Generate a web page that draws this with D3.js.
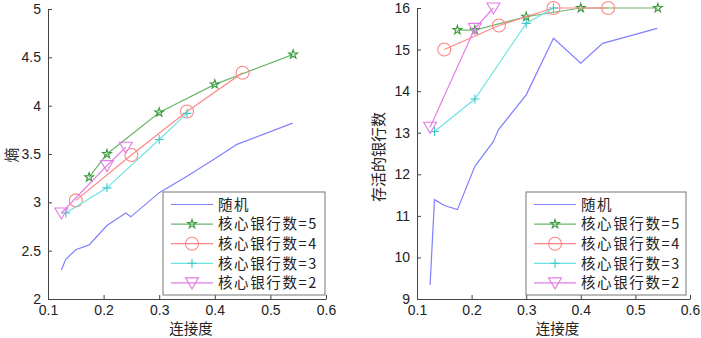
<!DOCTYPE html>
<html lang="zh">
<head>
  <meta charset="UTF-8">
  <title>连接度 vs 熵 / 存活的银行数</title>
  <script src="https://d3js.org/d3.v7.min.js"></script>
  <style>
    body { margin: 0; background: #fff; }
    .tick-label { font-family: "Liberation Sans", Arial, sans-serif; font-size: 14px; fill: #222; }
    .cjk { font-family: "Noto Sans CJK SC", sans-serif; fill: #222; }
  </style>
</head>
<body>
  <div id="chart"></div>
  <script>
    // random network (blue line)
    const randomX = [0.124, 0.132, 0.15, 0.174, 0.206, 0.24, 0.249, 0.3, 0.35, 0.4, 0.44, 0.54];
    const randomEntropy = [2.30, 2.41, 2.51, 2.56, 2.76, 2.89, 2.85, 3.10, 3.27, 3.45, 3.60, 3.82];
    const randomSurvive = [9.34, 11.39, 11.25, 11.15, 12.19, 12.79, 13.07, 13.91, 15.27, 14.67, 15.15, 15.51];

    // core banks = 5
    const core5X = [0.174, 0.206, 0.3, 0.4, 0.541];
    const core5Entropy = [3.26, 3.50, 3.93, 4.22, 4.53];
    const core5Survive = [15.47, 15.47, 15.79, 16, 16];

    // core banks = 4
    const core4X = [0.15, 0.25, 0.35, 0.45];
    const core4Entropy = [3.02, 3.49, 3.94, 4.34];
    const core4Survive = [15.0, 15.58, 16, 16];

    // core banks = 3
    const core3X = [0.132, 0.206, 0.3, 0.35];
    const core3Entropy = [2.89, 3.15, 3.65, 3.92];
    const core3Survive = [13.03, 13.81, 15.63, 16];

    // core banks = 2
    const core2X = [0.124, 0.206, 0.24];
    const core2Entropy = [2.89, 3.38, 3.57];
    const core2Survive = [13.13, 15.51, 16];

    const xTicks = [0.1, 0.2, 0.3, 0.4, 0.5, 0.6];
    const leftTicks = [2, 2.5, 3, 3.5, 4, 4.5, 5];
    const rightTicks = [9, 10, 11, 12, 13, 14, 15, 16];
    const legendLabels = ["随机", "核心银行数=5", "核心银行数=4", "核心银行数=3", "核心银行数=2"];

    const svg = d3.select("#chart").append("svg")
      .attr("width", 701).attr("height", 338);

    const styles = [
      { color: "#7f7fff", marker: null },
      { color: "#6bb86b", stroke: "#3c9a3c", marker: "star" },
      { color: "#ff8585", marker: "circle" },
      { color: "#6ee3e3", stroke: "#3cc8c8", marker: "plus" },
      { color: "#e27ee6", marker: "tri" }
    ];

    function drawMarker(g, type, x, y, st) {
      const c = st.stroke || st.color;
      if (type === "star") {
        g.append("path").attr("d", d3.symbol(d3.symbolStar, 24)())
          .attr("transform", `translate(${x},${y})`)
          .attr("fill", "none").attr("stroke", c).attr("stroke-width", 1.1);
      } else if (type === "circle") {
        g.append("circle").attr("cx", x).attr("cy", y).attr("r", 6.5)
          .attr("fill", "none").attr("stroke", c).attr("stroke-width", 1.1);
      } else if (type === "plus") {
        g.append("path").attr("d", `M${x - 4.5},${y}H${x + 4.5}M${x},${y - 4.5}V${y + 4.5}`)
          .attr("stroke", c).attr("stroke-width", 1.1);
      } else if (type === "tri") {
        g.append("path").attr("d", `M${x - 6.5},${y - 5}L${x + 6.5},${y - 5}L${x},${y + 6}Z`)
          .attr("fill", "none").attr("stroke", c).attr("stroke-width", 1.1);
      }
    }

    function panel(opt) {
      const g = svg.append("g");
      const x = d3.scaleLinear().domain([0.1, 0.6]).range(opt.xRange);
      const y = d3.scaleLinear().domain(opt.yDomain).range(opt.yRange);

      // axes (box off, ticks inside)
      const xAxis = g.append("g").attr("transform", `translate(0,${opt.yRange[0]})`)
        .call(d3.axisBottom(x).tickValues(xTicks).tickSize(-4).tickSizeOuter(0).tickPadding(5)
          .tickFormat(d3.format(".1f")));
      const yAxis = g.append("g").attr("transform", `translate(${opt.xRange[0]},0)`)
        .call(d3.axisLeft(y).tickValues(opt.yTicks).tickSize(-4).tickSizeOuter(0).tickPadding(7)
          .tickFormat(d => d));
      [xAxis, yAxis].forEach(a => {
        a.select(".domain").attr("stroke", "#444");
        a.selectAll(".tick line").attr("stroke", "#444");
        a.selectAll(".tick text").attr("class", "tick-label").attr("font-size", null).attr("font-family", null);
      });
      xAxis.selectAll(".tick text").attr("dy", "0.8em");

      const line = d3.line().x(d => x(d[0])).y(d => y(d[1]));
      opt.series.forEach((s, i) => {
        const st = styles[i];
        const pts = s.x.map((v, j) => [v, s.y[j]]);
        g.append("path").datum(pts).attr("d", line)
          .attr("fill", "none").attr("stroke", st.color).attr("stroke-width", 1.2);
        if (st.marker) pts.forEach(p => drawMarker(g, st.marker, x(p[0]), y(p[1]), st));
      });

      // labels
      g.append("text").attr("class", "cjk").attr("font-size", 14.5)
        .attr("x", (opt.xRange[0] + opt.xRange[1]) / 2 + 4).attr("y", 334)
        .attr("text-anchor", "middle").text("连接度");
      g.append("text").attr("class", "cjk").attr("font-size", 15)
        .attr("transform", `translate(${opt.yLabelX},${opt.yLabelY}) rotate(-90)`)
        .attr("text-anchor", "middle").text(opt.yLabel);

      // legend
      const lx = opt.legendX, ly = 192;
      const leg = g.append("g");
      leg.append("rect").attr("x", lx).attr("y", ly).attr("width", opt.legendW).attr("height", 103)
        .attr("fill", "#fff").attr("stroke", "#777").attr("stroke-width", 1);
      legendLabels.forEach((lab, i) => {
        const st = styles[i];
        const cy = ly + 12.5 + i * 19.6;
        leg.append("line").attr("x1", lx + 8).attr("x2", lx + 50).attr("y1", cy).attr("y2", cy)
          .attr("stroke", st.color).attr("stroke-width", 1.2);
        if (st.marker) drawMarker(leg, st.marker, lx + 29, cy, st);
        leg.append("text").attr("class", "cjk").attr("font-size", 14.5)
          .attr("letter-spacing", 1.6)
          .attr("x", lx + 55).attr("y", cy).attr("dy", "0.36em").text(lab);
      });
    }

    panel({
      xRange: [48, 326], yDomain: [2, 5], yRange: [299, 9], yTicks: leftTicks,
      yLabel: "熵", yLabelX: 17, yLabelY: 155, legendX: 163, legendW: 162,
      series: [
        { x: randomX, y: randomEntropy },
        { x: core5X, y: core5Entropy },
        { x: core4X, y: core4Entropy },
        { x: core3X, y: core3Entropy },
        { x: core2X, y: core2Entropy }
      ]
    });

    panel({
      xRange: [417, 690], yDomain: [9, 16], yRange: [299, 8], yTicks: rightTicks,
      yLabel: "存活的银行数", yLabelX: 384, yLabelY: 157, legendX: 526, legendW: 160,
      series: [
        { x: randomX, y: randomSurvive },
        { x: core5X, y: core5Survive },
        { x: core4X, y: core4Survive },
        { x: core3X, y: core3Survive },
        { x: core2X, y: core2Survive }
      ]
    });
  </script>
</body>
</html>
